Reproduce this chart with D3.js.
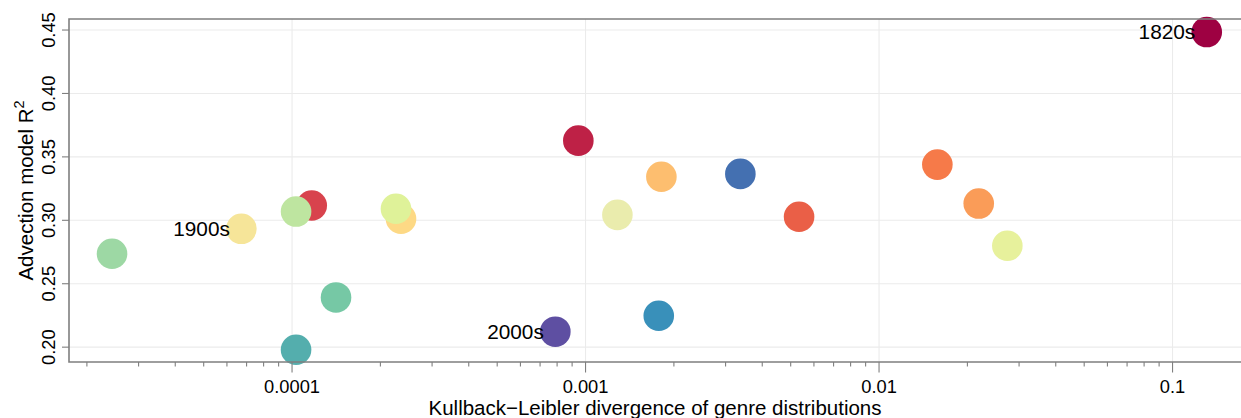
<!DOCTYPE html>
<html>
<head>
<meta charset="utf-8">
<script src="https://cdn.jsdelivr.net/npm/d3@7"></script>
<style>
  html, body { margin: 0; padding: 0; background: #fff; }
  svg { display: block; font-family: "Liberation Sans", Arial, sans-serif; }
</style>
</head>
<body>
<svg id="chart" width="1241" height="418"></svg>
<script>
// ---- data ----
const decades = ["1820s","1830s","1840s","1850s","1860s","1870s","1880s","1890s","1900s","1910s",
                 "1920s","1930s","1940s","1950s","1960s","1970s","1980s","1990s","2000s"];
const klDivergence = [0.1308, 0.000945, 0.0001167, 0.00534, 0.0158, 0.02186, 0.001813, 0.0002351, 0.0000672, 0.001284,
                      0.02736, 0.000226, 0.0001032, 0.00002436, 0.0001412, 0.0001032, 0.001776, 0.003369, 0.000789];
const advectionR2 = [0.4484, 0.3628, 0.3117, 0.3028, 0.3439, 0.3132, 0.3343, 0.3012, 0.2933, 0.3043,
                     0.2799, 0.3091, 0.3069, 0.2736, 0.2392, 0.1980, 0.2248, 0.3366, 0.2122];
const labelledDecades = ["1820s","1900s","2000s"];
const xTickValues = [0.0001, 0.001, 0.01, 0.1];
const xTickLabels = ["0.0001","0.001","0.01","0.1"];
const yTickValues = [0.20, 0.25, 0.30, 0.35, 0.40, 0.45];
const yTickLabels = ["0.20","0.25","0.30","0.35","0.40","0.45"];
// Spectral-like palette, one colour per decade (style constant)
const decadePalette = ["#9E0142","#BE2146","#D8434D","#EA5F47","#F67A49","#FA9C58","#FDBE6F","#FDD985",
                       "#F6E599","#EAECAD","#E7F19C","#DFF299","#BEE5A0","#9DD8A4","#76C8A5","#54AEAD",
                       "#3990BA","#4470B1","#5E4FA2"];

// ---- layout ----
const W = 1241, H = 418;
const m = { left: 69, top: 19, right: 0, bottom: 56 };
const iw = W - m.left - m.right, ih = H - m.top - m.bottom;

const svg = d3.select("#chart");
const g = svg.append("g").attr("transform", `translate(${m.left},${m.top})`);

const x = d3.scaleLog().domain([1.738e-5, 0.1711]).range([0, iw]);
const y = d3.scaleLinear().domain([0.1883, 0.4587]).range([ih, 0]);
const color = d3.scaleOrdinal().domain(decades).range(decadePalette);

const gridCol = "#ebebeb", axisCol = "#7f7f7f";

// grid
g.append("g").selectAll("line").data(xTickValues).join("line")
  .attr("x1", d => x(d)).attr("x2", d => x(d)).attr("y1", 0).attr("y2", ih)
  .attr("stroke", gridCol).attr("stroke-width", 1.1);
g.append("g").selectAll("line").data(yTickValues).join("line")
  .attr("x1", 0).attr("x2", iw).attr("y1", d => y(d)).attr("y2", d => y(d))
  .attr("stroke", gridCol).attr("stroke-width", 1.1);

// points
const pts = decades.map((d, i) => ({ decade: d, kl: klDivergence[i], r2: advectionR2[i] }));
g.append("g").selectAll("circle").data(pts).join("circle")
  .attr("cx", d => x(d.kl)).attr("cy", d => y(d.r2)).attr("r", 15.3)
  .attr("fill", d => color(d.decade));

// labels
g.append("g").selectAll("text").data(pts.filter(d => labelledDecades.includes(d.decade))).join("text")
  .attr("x", d => x(d.kl) - 11.5).attr("y", d => y(d.r2) + 7.4)
  .attr("text-anchor", "end").attr("font-size", 20.8).attr("fill", "#000")
  .text(d => d.decade);

// border (left, top, bottom)
g.append("path")
  .attr("d", `M${iw},0H0V${ih}H${iw}`)
  .attr("fill", "none").attr("stroke", axisCol).attr("stroke-width", 1.6);

// x axis: major + minor ticks
const allTicks = x.ticks().filter(t => t >= x.domain()[0] && t <= x.domain()[1]);
const isMajor = t => xTickValues.some(v => Math.abs(v - t) / v < 1e-9);
const xa = g.append("g").attr("transform", `translate(0,${ih})`);
xa.selectAll("line").data(allTicks).join("line")
  .attr("x1", d => x(d)).attr("x2", d => x(d)).attr("y1", 0).attr("y2", d => isMajor(d) ? 10.5 : 4.5)
  .attr("stroke", axisCol).attr("stroke-width", 1.1);
xa.selectAll("text").data(xTickValues).join("text")
  .attr("x", d => x(d)).attr("y", 31)
  .attr("text-anchor", "middle").attr("font-size", 18.3).attr("fill", "#000")
  .text((d, i) => xTickLabels[i]);

// y axis
const ya = g.append("g");
ya.selectAll("line").data(yTickValues).join("line")
  .attr("x1", -7).attr("x2", 0).attr("y1", d => y(d)).attr("y2", d => y(d))
  .attr("stroke", axisCol).attr("stroke-width", 1.1);
ya.selectAll("text").data(yTickValues).join("text")
  .attr("transform", d => `translate(-14,${y(d)}) rotate(-90)`)
  .attr("text-anchor", "middle").attr("font-size", 18.3).attr("fill", "#000")
  .text((d, i) => yTickLabels[i]);

// axis titles
svg.append("text")
  .attr("x", m.left + iw / 2).attr("y", 414.5)
  .attr("text-anchor", "middle").attr("font-size", 20.5).attr("fill", "#000")
  .text("Kullback\u2212Leibler divergence of genre distributions");

const yt = svg.append("text")
  .attr("transform", `translate(33,${m.top + ih / 2}) rotate(-90)`)
  .attr("text-anchor", "middle").attr("font-size", 20.5).attr("fill", "#000");
yt.append("tspan").text("Advection model R");
yt.append("tspan").attr("font-size", 14.5).attr("dy", -9).text("2");
</script>
</body>
</html>
